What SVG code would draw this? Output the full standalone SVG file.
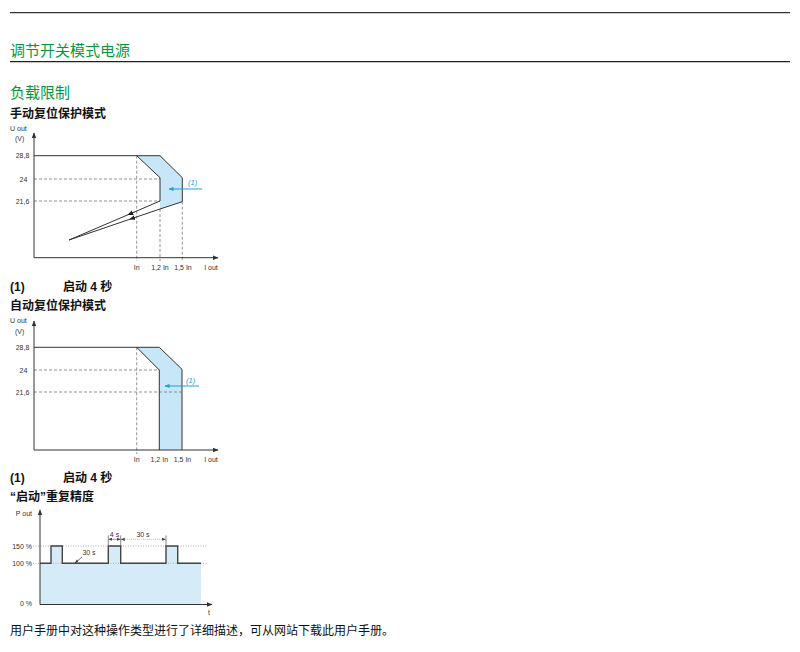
<svg xmlns="http://www.w3.org/2000/svg" width="800" height="652" viewBox="0 0 800 652">
<defs>
<style>
text{font-family:"Liberation Sans","Noto Sans CJK SC",sans-serif;}
.h1{font-size:15px;fill:#009a3e;}
.sub{font-size:12px;font-weight:bold;fill:#111;}
.note{font-size:12px;fill:#111;}
.noteb{font-size:12px;fill:#111;font-weight:bold;}
.sm{font-size:7px;fill:#333;}
.blue{font-size:7.5px;fill:#1ca0dc;font-style:italic;}
.axis{stroke:#333;stroke-width:1;fill:none;}
.dash{stroke:#777;stroke-width:0.8;stroke-dasharray:3,2;fill:none;}
.dot{stroke:#999;stroke-width:0.8;stroke-dasharray:1,1.5;fill:none;}
.curve{stroke:#333;stroke-width:1;fill:none;}
.zone{fill:#c7e6f7;stroke:none;}
.zone3{fill:#d5ebf8;stroke:none;}
.barrow{stroke:#1ca0dc;stroke-width:1.2;fill:none;}
</style>
<marker id="ax" viewBox="0 0 10 10" refX="9" refY="5" markerWidth="6" markerHeight="6" orient="auto" markerUnits="userSpaceOnUse"><path d="M0,1 L10,5 L0,9 Z" fill="#333"/></marker>
<marker id="mid" viewBox="0 0 10 10" refX="5" refY="5" markerWidth="6" markerHeight="6" orient="auto" markerUnits="userSpaceOnUse"><path d="M0,1 L10,5 L0,9 Z" fill="#222"/></marker>
<marker id="bl" viewBox="0 0 10 10" refX="9" refY="5" markerWidth="5" markerHeight="5" orient="auto" markerUnits="userSpaceOnUse"><path d="M0,1 L10,5 L0,9 Z" fill="#1ca0dc"/></marker>
<marker id="dim" viewBox="0 0 10 10" refX="9" refY="5" markerWidth="4" markerHeight="4" orient="auto" markerUnits="userSpaceOnUse"><path d="M0,1 L10,5 L0,9 Z" fill="#444"/></marker>
<marker id="dimS" viewBox="0 0 10 10" refX="1" refY="5" markerWidth="4" markerHeight="4" orient="auto" markerUnits="userSpaceOnUse"><path d="M10,1 L0,5 L10,9 Z" fill="#444"/></marker>
</defs>
<rect width="800" height="652" fill="#fff"/>

<g id="header">
<line x1="10" y1="12.7" x2="790" y2="12.7" stroke="#333" stroke-width="1.2"/>
<text class="h1" x="10" y="56">调节开关模式电源</text>
<line x1="10" y1="61.7" x2="790" y2="61.7" stroke="#222" stroke-width="1.2"/>
<text class="h1" x="10" y="98">负载限制</text>
</g>

<g id="chart1">
<text class="sub" x="10" y="118">手动复位保护模式</text>
<text class="sm" x="10" y="131">U out</text>
<text class="sm" x="15" y="141">(V)</text>
<text class="sm" x="22.5" y="158" text-anchor="middle">28,8</text>
<text class="sm" x="23.5" y="181.5" text-anchor="middle">24</text>
<text class="sm" x="22.5" y="203.5" text-anchor="middle">21,6</text>
<polygon class="zone" points="136.7,155.7 160,155.7 182.3,177.7 182.3,201.7 160,209 160,177.7"/>
<line class="dash" x1="34" y1="179" x2="160" y2="179"/>
<line class="dash" x1="34" y1="201" x2="160" y2="201"/>
<line class="dash" x1="136.7" y1="155.7" x2="136.7" y2="261"/>
<line class="dash" x1="160" y1="209" x2="160" y2="261"/>
<line class="dash" x1="182.3" y1="201.7" x2="182.3" y2="261"/>
<polyline class="curve" points="34,155.7 160,155.7 182.3,177.7 182.3,201.7 160,209"/>
<polyline class="curve" points="136.7,155.7 160,177.7 160,201"/>
<path class="curve" d="M160,201 L130,213.9 L69,240" marker-mid="url(#mid)"/>
<path class="curve" d="M160,209 L132,218.5 L69,240" marker-mid="url(#mid)"/>
<line class="axis" x1="34" y1="257.7" x2="34" y2="133" marker-end="url(#ax)"/>
<line class="axis" x1="34" y1="257.7" x2="218" y2="257.7" marker-end="url(#ax)"/>
<line class="barrow" x1="202" y1="189" x2="169" y2="189" marker-end="url(#bl)"/>
<text class="blue" x="188" y="185">(1)</text>
<text class="sm" x="136.7" y="270" text-anchor="middle">In</text>
<text class="sm" x="160" y="270" text-anchor="middle">1,2 In</text>
<text class="sm" x="183" y="270" text-anchor="middle">1,5 In</text>
<text class="sm" x="211" y="270" text-anchor="middle">I out</text>
<text class="noteb" x="10" y="291">(1)</text>
<text class="noteb" x="63" y="291">启动 4 秒</text>
</g>

<g id="chart2">
<text class="sub" x="10" y="310">自动复位保护模式</text>
<text class="sm" x="10" y="323">U out</text>
<text class="sm" x="15" y="334">(V)</text>
<text class="sm" x="22.5" y="349.8" text-anchor="middle">28,8</text>
<text class="sm" x="23.5" y="372.5" text-anchor="middle">24</text>
<text class="sm" x="22.5" y="394.5" text-anchor="middle">21,6</text>
<polygon class="zone" points="136.7,347.3 159.3,347.3 182,369.3 182,450 159.3,450 159.3,370"/>
<line class="dash" x1="34" y1="370" x2="159.3" y2="370"/>
<line class="dash" x1="34" y1="392" x2="182" y2="392"/>
<line class="dash" x1="136.7" y1="347.3" x2="136.7" y2="454"/>
<polyline class="curve" points="34,347.3 159.3,347.3 182,369.3 182,450"/>
<polyline class="curve" points="136.7,347.3 159.3,370 159.3,450"/>
<line class="axis" x1="34" y1="450" x2="34" y2="321" marker-end="url(#ax)"/>
<line class="axis" x1="34" y1="450" x2="218" y2="450" marker-end="url(#ax)"/>
<line class="barrow" x1="199" y1="386" x2="165" y2="386" marker-end="url(#bl)"/>
<text class="blue" x="186" y="383">(1)</text>
<text class="sm" x="136.7" y="461.5" text-anchor="middle">In</text>
<text class="sm" x="159.3" y="461.5" text-anchor="middle">1,2 In</text>
<text class="sm" x="182.5" y="461.5" text-anchor="middle">1,5 In</text>
<text class="sm" x="211" y="461.5" text-anchor="middle">I out</text>
<text class="noteb" x="10" y="482">(1)</text>
<text class="noteb" x="63" y="482">启动 4 秒</text>
</g>

<g id="chart3">
<text class="sub" x="10" y="501">“启动”重复精度</text>
<text class="sm" x="32" y="516" text-anchor="end">P out</text>
<text class="sm" x="32" y="548.5" text-anchor="end">150 %</text>
<text class="sm" x="32" y="566" text-anchor="end">100 %</text>
<text class="sm" x="32" y="606" text-anchor="end">0 %</text>
<rect class="zone3" x="40" y="563.3" width="161" height="40.7"/>
<rect class="zone3" x="51" y="546" width="11.3" height="17.3"/>
<rect class="zone3" x="108.3" y="546" width="12.4" height="17.3"/>
<rect class="zone3" x="166" y="546" width="11.7" height="17.3"/>
<line class="dot" x1="33" y1="546" x2="207" y2="546"/>
<line class="dot" x1="33" y1="563.3" x2="207" y2="563.3"/>
<polyline points="40,563.3 51,563.3 51,546 62.3,546 62.3,563.3 108.3,563.3 108.3,546 120.7,546 120.7,563.3 166,563.3 166,546 177.7,546 177.7,563.3 201,563.3" fill="none" stroke="#444" stroke-width="1.4"/>
<line class="axis" x1="40" y1="604.5" x2="40" y2="510" marker-end="url(#ax)"/>
<line class="axis" x1="40" y1="604.5" x2="212" y2="604.5" marker-end="url(#ax)"/>
<line x1="108.3" y1="535.5" x2="108.3" y2="546" stroke="#555" stroke-width="0.7"/>
<line x1="120.7" y1="535.5" x2="120.7" y2="546" stroke="#555" stroke-width="0.7"/>
<line x1="166" y1="535.5" x2="166" y2="546" stroke="#555" stroke-width="0.7"/>
<line x1="108.8" y1="539.3" x2="120.2" y2="539.3" stroke="#555" stroke-width="0.6" marker-start="url(#dimS)" marker-end="url(#dim)"/>
<line x1="121.2" y1="539.3" x2="165.5" y2="539.3" stroke="#888" stroke-width="0.6" stroke-dasharray="1,1" marker-start="url(#dimS)" marker-end="url(#dim)"/>
<text class="sm" x="114.5" y="536.5" text-anchor="middle">4 s</text>
<text class="sm" x="143" y="536.5" text-anchor="middle">30 s</text>
<line x1="82" y1="557" x2="75" y2="563" stroke="#333" stroke-width="0.7" marker-end="url(#dim)"/>
<text class="sm" x="89" y="555" text-anchor="middle">30 s</text>
<text class="sm" x="209" y="615" text-anchor="middle">t</text>
</g>

<g id="footer">
<text class="note" x="10" y="635">用户手册中对这种操作类型进行了详细描述，可从网站下载此用户手册。</text>
</g>
</svg>
